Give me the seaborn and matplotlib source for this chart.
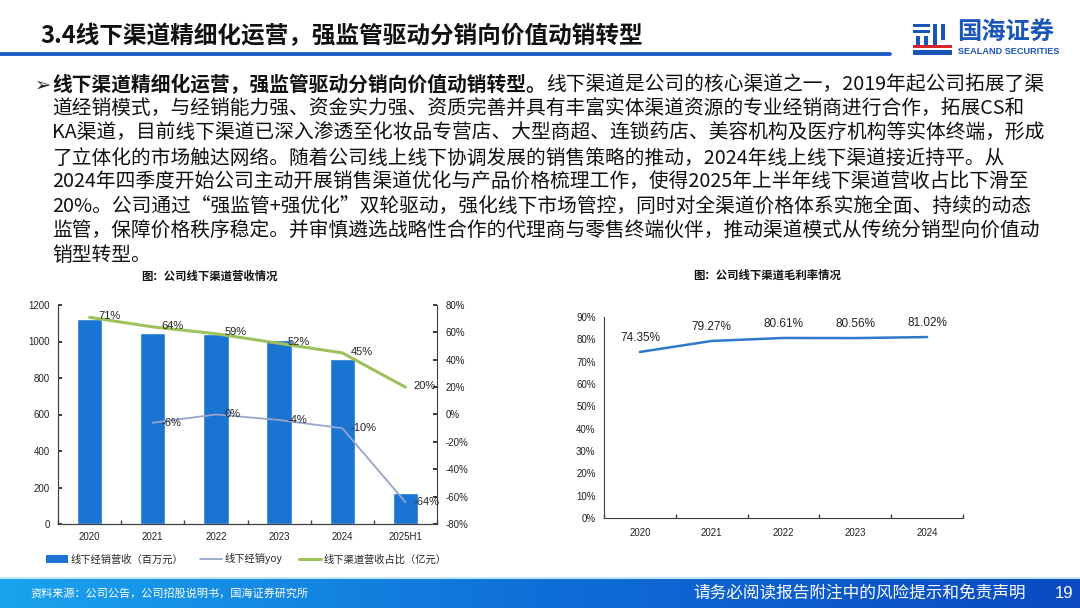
import numpy as np
import pandas as pd
import matplotlib
matplotlib.use("Agg")
import matplotlib.pyplot as plt
import seaborn as sns
from matplotlib.lines import Line2D
from matplotlib.patches import Patch, Rectangle
from matplotlib.colors import LinearSegmentedColormap
from matplotlib.ticker import FuncFormatter, FixedLocator

# =======================
# data
# =======================
years_left = ["2020", "2021", "2022", "2023", "2024", "2025H1"]
offline_rev = [1123, 1049, 1040, 1008, 906, 168]          # 百万元
offline_yoy = [np.nan, -6, 0, -4, -10, -64]               # %
offline_share = [71, 64, 59, 52, 45, 20]                  # %

years_right = ["2020", "2021", "2022", "2023", "2024"]
gross_margin = [74.35, 79.27, 80.61, 80.56, 81.02]        # %

page_title = "3.4线下渠道精细化运营，强监管驱动分销向价值动销转型"
lead_bold = "线下渠道精细化运营，强监管驱动分销向价值动销转型。"
body_lines = [
    "线下渠道是公司的核心渠道之一，2019年起公司拓展了渠",
    "道经销模式，与经销能力强、资金实力强、资质完善并具有丰富实体渠道资源的专业经销商进行合作，拓展CS和",
    "KA渠道，目前线下渠道已深入渗透至化妆品专营店、大型商超、连锁药店、美容机构及医疗机构等实体终端，形成",
    "了立体化的市场触达网络。随着公司线上线下协调发展的销售策略的推动，2024年线上线下渠道接近持平。从",
    "2024年四季度开始公司主动开展销售渠道优化与产品价格梳理工作，使得2025年上半年线下渠道营收占比下滑至",
    "20%。公司通过“强监管+强优化”双轮驱动，强化线下市场管控，同时对全渠道价格体系实施全面、持续的动态",
    "监管，保障价格秩序稳定。并审慎遴选战略性合作的代理商与零售终端伙伴，推动渠道模式从传统分销型向价值动",
    "销型转型。",
]

sns.set_theme(style="white")
plt.rcParams['font.family'] = ['Noto Sans CJK SC', 'DejaVu Sans']
NUM_FONT = ['Liberation Sans', 'Noto Sans CJK SC']

W, H = 1080, 608
fig = plt.figure(figsize=(W / 100, H / 100), dpi=100)
fig.patch.set_facecolor("white")


def fx(px):
    return px / W


def fy(py):
    return 1 - py / H


def box(x0, y0, x1, y1, color):
    # rectangle given in pixel coords (top-left origin)
    fig.add_artist(Rectangle((fx(x0), fy(y1)), fx(x1 - x0), (y1 - y0) / H,
                             color=color, lw=0))


# =======================
# header
# =======================
fig.text(fx(40), fy(36), page_title, fontsize=17, fontweight="bold",
         va="center", ha="left", color="#111111")
fig.add_artist(Line2D([0, fx(890)], [fy(54), fy(54)], color="#1f5cc6", lw=2.8))

# logo (rough)
logo_blue = "#1a55b8"
box(913, 24, 930, 27, logo_blue)
box(913, 30, 930, 33, logo_blue)
box(916, 36, 920, 46, logo_blue)
box(924, 36, 928, 46, logo_blue)
box(933, 24, 937, 46, logo_blue)
box(941, 24, 945, 40, logo_blue)
box(913, 45, 952, 48, "#d9252b")
box(913, 50, 952, 55, logo_blue)
fig.text(fx(957), fy(33), "国海证券", fontsize=17.5, fontweight="bold",
         color=logo_blue, va="center", ha="left")
fig.text(fx(958), fy(52), "SEALAND SECURITIES", fontsize=6.6, fontweight="bold",
         color=logo_blue, va="center", ha="left", family=NUM_FONT)

# =======================
# body text
# =======================
fig.text(fx(35), fy(85), "➢", fontsize=14, family=['DejaVu Sans'],
         va="center", ha="left", color="#222222")
body_size = 14.2
line_gap = 24.4
t_bold = fig.text(fx(52), fy(85), lead_bold, fontsize=body_size, fontweight="bold",
                  va="center", ha="left", color="#111111")
fig.canvas.draw()
bb = t_bold.get_window_extent(renderer=fig.canvas.get_renderer())
fig.text(bb.x1 / W, fy(85), body_lines[0], fontsize=body_size,
         va="center", ha="left", color="#111111")
for k, line in enumerate(body_lines[1:], start=1):
    fig.text(fx(52), fy(85 + k * line_gap), line, fontsize=body_size,
             va="center", ha="left", color="#111111")

# =======================
# left chart: offline revenue
# =======================
fig.text(fx(209), fy(276), "图：公司线下渠道营收情况", fontsize=8.2, fontweight="bold",
         ha="center", va="center", color="#111111")

ax1 = fig.add_axes([fx(58), fy(524), fx(437 - 58), (524 - 305) / H])
df_left = pd.DataFrame({"year": years_left, "rev": offline_rev})
sns.barplot(data=df_left, x="year", y="rev", ax=ax1, color="#1975d1",
            width=0.4, saturation=1)
ax1.set_xlim(-0.5, len(years_left) - 0.5)
ax1.set_ylim(0, 1200)
ax1.set_yticks(range(0, 1201, 200))
ax1.set_xlabel("")
ax1.set_ylabel("")

ax2 = ax1.twinx()
xl = np.arange(len(years_left))
share_col = "#9dc25b"
yoy_col = "#97a5c9"
sns.lineplot(x=xl, y=offline_share, ax=ax2, color=share_col, lw=2.2)
yoy_mask = ~np.isnan(np.array(offline_yoy, dtype=float))
sns.lineplot(x=xl[yoy_mask], y=np.array(offline_yoy)[yoy_mask], ax=ax2,
             color=yoy_col, lw=1.3)
ax2.set_ylim(-80, 80)
ax2.set_yticks(range(-80, 81, 20))
ax2.yaxis.set_major_formatter(FuncFormatter(lambda v, p: f"{int(v)}%"))
ax2.set_xlim(-0.5, len(years_left) - 0.5)

for i, v in enumerate(offline_share):
    ax2.annotate(f"{v}%", (xl[i], v), xytext=(6, 1), textcoords="offset points",
                 ha="left", va="center", fontsize=8, family=NUM_FONT, color="#222222")
for i, v in enumerate(offline_yoy):
    if np.isnan(v):
        continue
    ax2.annotate(f"{int(v)}%", (xl[i], v), xytext=(6, 0), textcoords="offset points",
                 ha="left", va="center", fontsize=8, family=NUM_FONT, color="#222222")

for ax in (ax1, ax2):
    ax.spines["top"].set_visible(False)
    for s in ("left", "right", "bottom"):
        ax.spines[s].set_color("#404040")
        ax.spines[s].set_linewidth(0.8)
ax1.spines["right"].set_visible(False)
ax1.tick_params(axis="y", direction="in", length=3, labelsize=7, pad=6, colors="#222222")
ax2.tick_params(axis="y", direction="in", length=3, labelsize=7, pad=6, colors="#222222")
ax1.xaxis.set_minor_locator(FixedLocator(np.arange(-0.5, len(years_left), 1)))
ax1.tick_params(axis="x", which="major", length=0, labelsize=7, pad=6, colors="#222222")
ax1.tick_params(axis="x", which="minor", direction="in", length=3, color="#404040", bottom=True)
for lab in ax1.get_xticklabels() + ax1.get_yticklabels() + ax2.get_yticklabels():
    lab.set_family(NUM_FONT)
ax1.grid(False)
ax2.grid(False)

handles = [Patch(facecolor="#1975d1", edgecolor="none"),
           Line2D([], [], color=yoy_col, lw=1.3),
           Line2D([], [], color=share_col, lw=2.2)]
labels = ["线下经销营收（百万元）", "线下经销yoy", "线下渠道营收占比（亿元）"]
fig.legend(handles, labels, loc="center", bbox_to_anchor=(fx(246), fy(559)), ncol=3,
           frameon=False, fontsize=7.4, handlelength=2.2, handleheight=0.8,
           columnspacing=1.6, handletextpad=0.2)

# =======================
# right chart: gross margin
# =======================
fig.text(fx(767), fy(275), "图：公司线下渠道毛利率情况", fontsize=8.2, fontweight="bold",
         ha="center", va="center", color="#111111")

ax3 = fig.add_axes([fx(604), fy(518), fx(963 - 604), (518 - 317) / H])
xr = np.arange(len(years_right))
sns.lineplot(x=xr, y=gross_margin, ax=ax3, color="#2f79c9", lw=1.8)
ax3.set_xlim(-0.5, len(years_right) - 0.5)
ax3.set_ylim(0, 90)
ax3.set_yticks(range(0, 91, 10))
ax3.yaxis.set_major_formatter(FuncFormatter(lambda v, p: f"{int(v)}%"))
ax3.set_xticks(xr)
ax3.set_xticklabels(years_right)
ax3.xaxis.set_minor_locator(FixedLocator(np.arange(-0.5, len(years_right), 1)))
ax3.tick_params(axis="x", which="major", length=0, labelsize=7, pad=7, colors="#222222")
ax3.tick_params(axis="x", which="minor", direction="in", length=3, color="#404040", bottom=True)
ax3.tick_params(axis="y", direction="out", length=2, labelsize=7, pad=4, colors="#222222")
for lab in ax3.get_xticklabels() + ax3.get_yticklabels():
    lab.set_family(NUM_FONT)
for s in ("top", "right"):
    ax3.spines[s].set_visible(False)
for s in ("left", "bottom"):
    ax3.spines[s].set_color("#404040")
    ax3.spines[s].set_linewidth(0.8)
ax3.grid(False)
for i, v in enumerate(gross_margin):
    ax3.annotate(f"{v:.2f}%", (xr[i], v), xytext=(0, 10), textcoords="offset points",
                 ha="center", va="center", fontsize=8.5, family=NUM_FONT, color="#222222")

# =======================
# footer
# =======================
fig.add_artist(Line2D([0, 1], [fy(578), fy(578)], color="#bfe6fa", lw=1.5))
ax_f = fig.add_axes([0, 0, 1, (608 - 579) / H])
grad = np.linspace(0, 1, 256).reshape(1, -1)
cmap = LinearSegmentedColormap.from_list("foot", ["#1aa3ee", "#0f6fd8", "#0a49c0"])
ax_f.imshow(grad, aspect="auto", cmap=cmap, extent=[0, 1, 0, 1])
ax_f.set_axis_off()
fig.text(fx(30), fy(593), "资料来源：公司公告，公司招股说明书，国海证券研究所", fontsize=8,
         color="white", va="center", ha="left")
fig.text(fx(693), fy(594), "请务必阅读报告附注中的风险提示和免责声明", fontsize=12,
         color="white", va="center", ha="left")
fig.text(fx(1064), fy(594), "19", fontsize=12, color="white", va="center", ha="center",
         family=NUM_FONT)

fig.savefig("out.png", dpi=100)
